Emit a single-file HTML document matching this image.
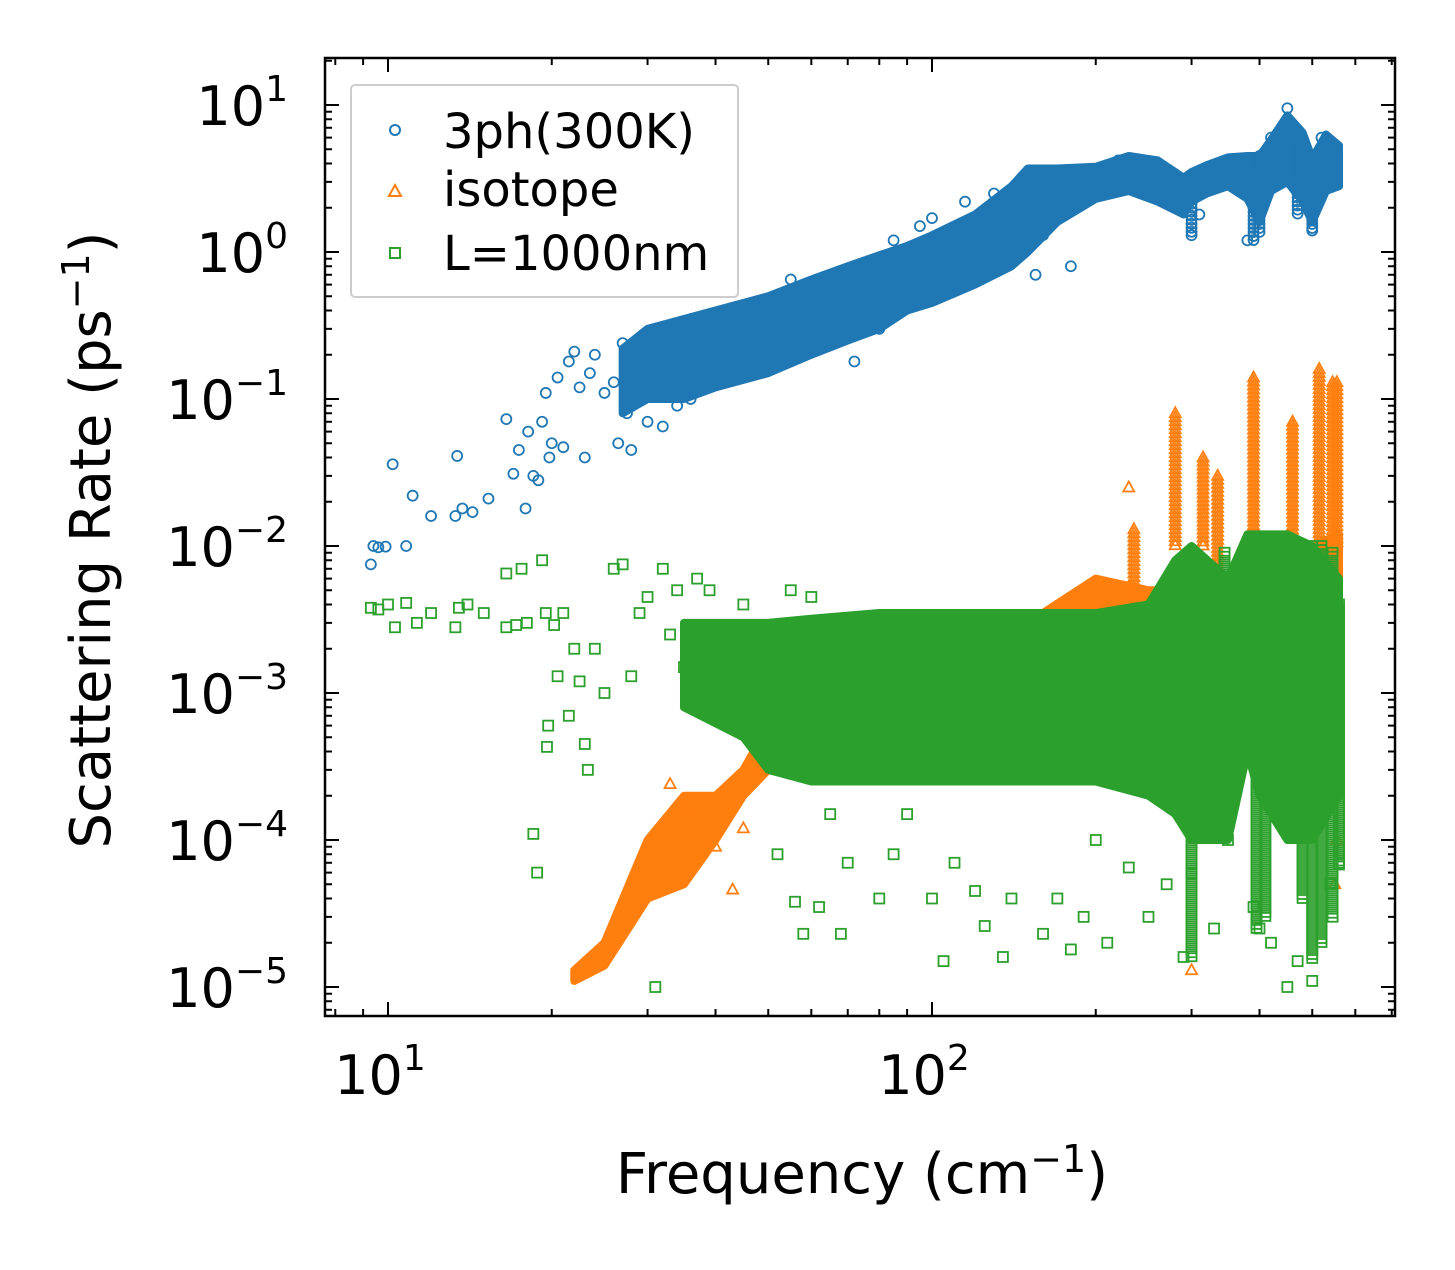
<!DOCTYPE html>
<html><head><meta charset="utf-8"><style>
body{margin:0;background:#fff;}
svg text{font-family:"DejaVu Sans","Liberation Sans",sans-serif;}
</style></head><body>
<svg id="chart" width="1455" height="1265" xmlns="http://www.w3.org/2000/svg">
<rect width="1455" height="1265" fill="#fff"/>
<g id="marks"></g>
<g id="axes"></g>
<g id="legend">
 <rect x="351" y="85" width="387" height="212" fill="#fff" fill-opacity="0.8" stroke="#ccc" stroke-width="2" rx="4"/>
 <g><circle cx="395" cy="130" r="5" fill="none" stroke="#1f77b4" stroke-width="2"/><text x="443" y="148" font-size="48">3ph(300K)</text></g>
 <g><path d="M389,196 L401,196 L395,185 Z" fill="none" stroke="#ff7f0e" stroke-width="2"/><text x="443" y="206" font-size="48">isotope</text></g>
 <g><rect x="390" y="248" width="10" height="10" fill="none" stroke="#2ca02c" stroke-width="2"/><text x="443" y="270" font-size="48">L=1000nm</text></g>
</g>
<text transform="translate(110,540) rotate(-90)" text-anchor="middle" font-size="56">Scattering Rate (ps<tspan dy="-21" font-size="38">−1</tspan><tspan dy="21">)</tspan></text>
<text x="862" y="1193" text-anchor="middle" font-size="56">Frequency (cm<tspan dy="-21" font-size="38">−1</tspan><tspan dy="21">)</tspan></text>
</svg>
<script>
// ---- data ----
const blueF=[9.3,9.4,9.6,9.9,10.2,10.8,11.1,12,13.3,13.4,13.7,14.3,15.3,16.5,17,17.4,17.9,18.1,18.5,18.9,19.2,19.5,19.8,20,20.5,21,21.5,22,22.5,23,23.5,24,25,26,26.5,27,27.5,28,28.5,29,30,31,32,33,34,35,36,38,40,42,45,48,50,55,60,65,70,72,80,85,90,95,100,110,115,120,130,140,150,155,160,180,200,220,250,270,300,310,330,380,390,420,450,470,500,520,540,555];
const blueR=[0.0075,0.01,0.0098,0.0099,0.036,0.01,0.022,0.016,0.016,0.041,0.018,0.017,0.021,0.073,0.031,0.045,0.018,0.06,0.03,0.028,0.07,0.11,0.04,0.05,0.14,0.047,0.18,0.21,0.12,0.04,0.15,0.2,0.11,0.13,0.05,0.24,0.08,0.045,0.13,0.25,0.07,0.17,0.065,0.3,0.09,0.15,0.1,0.25,0.32,0.17,0.4,0.3,0.23,0.65,0.3,0.7,0.4,0.18,0.3,1.2,0.9,1.5,1.7,0.6,2.2,0.7,2.5,1.2,3.5,0.7,1.3,0.8,3.0,4.2,3.2,2.5,1.3,1.8,3.7,1.2,2,6,9.5,2.5,1.4,6,4.5,4];
const blueBandF=[27,30,35,40,50,60,70,80,90,100,120,140,150,170,200,230,260,290,300,320,350,380,400,420,450,480,500,530,560];
const blueBandLo=[0.08,0.1,0.1,0.12,0.15,0.2,0.25,0.3,0.4,0.45,0.6,0.8,1.0,1.6,2.3,2.6,2.2,1.8,2.2,2.5,2.8,2.3,1.6,2.6,3.0,2.2,1.6,2.6,2.8];
const blueBandHi=[0.22,0.3,0.35,0.4,0.5,0.65,0.8,0.95,1.1,1.3,1.8,2.8,3.7,3.7,3.8,4.5,4.2,3.2,3.5,3.9,4.4,4.5,4.5,5.8,8.5,6.5,4.3,6.3,5.3];
const blueSpikeF=[300,390,400,470,500];
const blueSpikeLo=[1.3,1.2,1.3,1.8,1.4];
const blueSpikeHi=[3.3,3.5,4.5,6,4.5];

const orBandF=[22,25,30,35,40,45,50,60,80,100,150,200,250,300,350,400,450,500,560];
const orBandLo=[1.1e-5,1.4e-5,4e-5,5e-5,1e-4,2e-4,3e-4,5e-4,7e-4,1e-3,1.5e-3,2e-3,1.5e-3,1e-3,6e-4,1e-3,1.5e-3,2e-3,3e-3];
const orBandHi=[1.3e-5,2e-5,1e-4,2e-4,2e-4,3e-4,6e-4,1e-3,1.2e-3,1.5e-3,3e-3,6e-3,5e-3,5e-3,5e-3,8e-3,1e-2,1e-2,1.2e-2];
const orSpikeF=[235,280,315,335,390,460,515,545,555];
const orSpikeLo=[3e-3,1e-2,1e-2,3e-3,3e-3,1e-2,1e-2,1e-2,1e-2];
const orSpikeHi=[1.3e-2,8e-2,4e-2,3e-2,0.14,7e-2,0.16,0.13,0.13];
const orF=[31,33,36,40,43,45,48,230,300,370,550,555];
const orR=[6e-5,2.4e-4,1.6e-4,9e-5,4.6e-5,1.2e-4,3e-4,2.5e-2,1.3e-5,4.5e-3,5e-5,1e-4];

const grBandF=[35,45,50,60,80,100,150,200,250,280,300,350,380,400,450,500,560];
const grBandLo=[8e-4,5e-4,3e-4,2.5e-4,2.5e-4,2.5e-4,2.5e-4,2.5e-4,2e-4,1.5e-4,1e-4,1e-4,4e-4,2e-4,1e-4,1e-4,2e-4];
const grBandHi=[3e-3,3e-3,3e-3,3.2e-3,3.5e-3,3.5e-3,3.5e-3,3.5e-3,4e-3,8e-3,1e-2,6e-3,1.2e-2,1.2e-2,1.2e-2,1e-2,6e-3];
const grSpikeF=[300,345,395,410,480,500,520,545,560];
const grSpikeLo=[1.6e-5,1.5e-4,2.5e-5,3e-5,4e-5,1.5e-5,2e-5,3e-5,6.5e-5];
const grSpikeHi=[8e-3,9e-3,1.1e-2,1.1e-2,1e-2,1e-2,1e-2,9e-3,4e-3];
const grF=[9.3,9.6,10,10.3,10.8,11.3,12,13.3,13.5,14,15,16.5,16.5,17.2,17.6,18,18.5,18.8,19.2,19.5,19.6,19.7,20.2,20.5,21,21.5,22,22.5,23,23.3,24,25,26,27,28,29,30,31,32,33,34,35,37,39,40,42,45,50,52,55,56,58,60,62,65,68,70,80,85,90,100,105,110,120,125,135,140,160,170,180,190,200,210,230,250,270,290,300,330,350,390,400,420,450,470,500,540,560];
const grR=[0.0038,0.0037,0.004,0.0028,0.0041,0.003,0.0035,0.0028,0.0038,0.004,0.0035,0.0028,0.0065,0.0029,0.007,0.003,1.1e-4,6e-5,0.008,0.0035,4.3e-4,6e-4,0.0029,0.0013,0.0035,7e-4,0.002,1.2e-3,4.5e-4,3e-4,0.002,0.001,0.007,0.0075,0.0013,0.0035,0.0045,1e-5,0.007,0.0025,0.005,0.0015,0.006,0.005,0.0025,0.0009,0.004,0.001,8e-5,0.005,3.8e-5,2.3e-5,0.0045,3.5e-5,1.5e-4,2.3e-5,7e-5,4e-5,8e-5,1.5e-4,4e-5,1.5e-5,7e-5,4.5e-5,2.6e-5,1.6e-5,4e-5,2.3e-5,4e-5,1.8e-5,3e-5,1e-4,2e-5,6.5e-5,3e-5,5e-5,1.6e-5,6e-5,2.5e-5,1e-4,3.5e-5,2.5e-5,2e-5,1e-5,1.5e-5,1.1e-5,5e-5,7e-5];

// ---- axes ----
const L=325,R=1395,T=58,B=1016;
const X=f=>388+544*(Math.log10(f)-1);
const Y=r=>252-147*Math.log10(r);
const NS="http://www.w3.org/2000/svg";
const marks=document.getElementById('marks'), axes=document.getElementById('axes');
function el(tag,attrs,parent){const e=document.createElementNS(NS,tag);for(const k in attrs)e.setAttribute(k,attrs[k]);parent.appendChild(e);return e;}
function marker(kind,x,y,c,g){
  if(kind==='o')return el('circle',{cx:x,cy:y,r:5,fill:'none',stroke:c,'stroke-width':1.8},g);
  if(kind==='^')return el('path',{d:`M${x-5.5},${y+4} L${x+5.5},${y+4} L${x},${y-6} Z`,fill:'none',stroke:c,'stroke-width':1.8},g);
  return el('rect',{x:x-5,y:y-5,width:10,height:10,fill:'none',stroke:c,'stroke-width':1.8},g);
}
function band(F,Lo,Hi,c,op,name){
  let pts=F.map((f,i)=>`${X(f)},${Y(Hi[i])}`);
  for(let i=F.length-1;i>=0;i--)pts.push(`${X(F[i])},${Y(Lo[i])}`);
  const p=el('polygon',{points:pts.join(' '),fill:c,'fill-opacity':op,stroke:c,'stroke-width':8,'stroke-linejoin':'round'},marks);
  
  
}
function spikes(F,Lo,Hi,kind,c,name){
  const g=el('g',{},marks);
  
  
  F.forEach((f,i)=>{const x=X(f),y1=Y(Hi[i]),y2=Y(Lo[i]);
    for(let y=y1;y<=y2;y+=4){marker(kind,x,y,c,g);}});
}
function points(F,Rr,kind,c,name){
  const g=el('g',{},marks);
  
  
  F.forEach((f,i)=>marker(kind,X(f),Y(Rr[i]),c,g));
}
const cB='#1f77b4',cO='#ff7f0e',cG='#2ca02c';
band(blueBandF,blueBandLo,blueBandHi,cB,1,'series-3ph-band');
spikes(blueSpikeF,blueSpikeLo,blueSpikeHi,'o',cB,'series-3ph-spikes');
points(blueF,blueR,'o',cB,'series-3ph-points');
band(orBandF,orBandLo,orBandHi,cO,1,'series-isotope-band');
spikes(orSpikeF,orSpikeLo,orSpikeHi,'^',cO,'series-isotope-spikes');
points(orF,orR,'^',cO,'series-isotope-points');
band(grBandF,grBandLo,grBandHi,cG,1,'series-boundary-band');
spikes(grSpikeF,grSpikeLo,grSpikeHi,'s',cG,'series-boundary-spikes');
points(grF,grR,'s',cG,'series-boundary-points');

// frame
const fr=el('rect',{x:L,y:T,width:R-L,height:B-T,fill:'none',stroke:'#000','stroke-width':2.5},axes);


// x ticks
const xMajor=[10,100];
const xLabels=['10','10'];
const xExp=['1','2'];
for(let d=1;d<=100;d*=10)for(let m=1;m<10;m++){const f=d*m,x=X(f);if(x<L||x>R)continue;
  const len=(m===1)?14:7;
  el('line',{x1:x,y1:B,x2:x,y2:B-len,stroke:'#000','stroke-width':2},axes);
  el('line',{x1:x,y1:T,x2:x,y2:T+len,stroke:'#000','stroke-width':2},axes);}
xMajor.forEach((f,i)=>{const t=el('text',{x:X(f)-8,y:1094,'text-anchor':'middle','font-size':54},axes);
  
  
  t.innerHTML=`${xLabels[i]}<tspan dy="-24" font-size="36">${xExp[i]}</tspan>`;});
// y ticks
const yExp=['1','0','−1','−2','−3','−4','−5'];
const yMajor=[10,1,0.1,0.01,1e-3,1e-4,1e-5];
for(let e=-6;e<=1;e++)for(let m=1;m<10;m++){const r=Math.pow(10,e)*m,y=Y(r);if(y<T||y>B)continue;
  const len=(m===1)?14:7;
  el('line',{x1:L,y1:y,x2:L+len,y2:y,stroke:'#000','stroke-width':2},axes);
  el('line',{x1:R,y1:y,x2:R-len,y2:y,stroke:'#000','stroke-width':2},axes);}
yMajor.forEach((r,i)=>{const t=el('text',{x:288,y:Y(r)+20,'text-anchor':'end','font-size':54},axes);
  
  
  t.innerHTML=`10<tspan dy="-24" font-size="36">${yExp[i]}</tspan>`;});
</script>
</body></html>
